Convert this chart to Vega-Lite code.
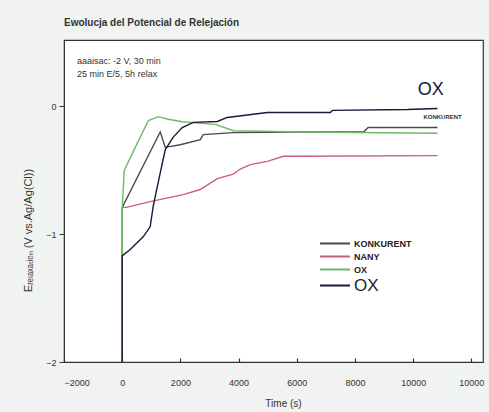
{
  "$schema": "https://vega.github.io/schema/vega-lite/v6.json",
  "autosize": "none",
  "width": 419,
  "height": 322,
  "padding": {"left": 64, "top": 40, "right": 6, "bottom": 50},
  "background": "#f1f2f2",
  "title": {"text": "Ewolucja del Potencial de Relejación", "anchor": "start", "frame": "group", "fontSize": 10, "fontWeight": "bold", "color": "#333333", "font": "Liberation Sans", "offset": 12},
  "config": {
    "font": "Liberation Sans",
    "view": {"stroke": "#333333", "strokeWidth": 1.2, "fill": "#ffffff"}
  },
  "datasets": {
    "curves": [
      {"s": "KONKURENT", "i": 0, "t": 0, "e": -2},
      {"s": "KONKURENT", "i": 1, "t": 0, "e": -0.79},
      {"s": "KONKURENT", "i": 2, "t": 1307, "e": -0.2},
      {"s": "KONKURENT", "i": 3, "t": 1479, "e": -0.32},
      {"s": "KONKURENT", "i": 4, "t": 1995, "e": -0.3},
      {"s": "KONKURENT", "i": 5, "t": 2683, "e": -0.26},
      {"s": "KONKURENT", "i": 6, "t": 2786, "e": -0.22},
      {"s": "KONKURENT", "i": 7, "t": 3818, "e": -0.205},
      {"s": "KONKURENT", "i": 8, "t": 6123, "e": -0.2},
      {"s": "KONKURENT", "i": 9, "t": 8300, "e": -0.2},
      {"s": "KONKURENT", "i": 10, "t": 8450, "e": -0.165},
      {"s": "KONKURENT", "i": 11, "t": 10836, "e": -0.165},
      {"s": "NANY", "i": 0, "t": 0, "e": -0.79},
      {"s": "NANY", "i": 1, "t": 140, "e": -0.79},
      {"s": "NANY", "i": 2, "t": 963, "e": -0.745},
      {"s": "NANY", "i": 3, "t": 2098, "e": -0.69},
      {"s": "NANY", "i": 4, "t": 2683, "e": -0.65},
      {"s": "NANY", "i": 5, "t": 3268, "e": -0.565},
      {"s": "NANY", "i": 6, "t": 3818, "e": -0.53},
      {"s": "NANY", "i": 7, "t": 4060, "e": -0.49},
      {"s": "NANY", "i": 8, "t": 4403, "e": -0.455},
      {"s": "NANY", "i": 9, "t": 4988, "e": -0.43},
      {"s": "NANY", "i": 10, "t": 5538, "e": -0.39},
      {"s": "NANY", "i": 11, "t": 6123, "e": -0.39},
      {"s": "NANY", "i": 12, "t": 10836, "e": -0.385},
      {"s": "OX", "i": 0, "t": 0, "e": -2},
      {"s": "OX", "i": 1, "t": 0, "e": -0.8},
      {"s": "OX", "i": 2, "t": 70, "e": -0.5},
      {"s": "OX", "i": 3, "t": 450, "e": -0.32},
      {"s": "OX", "i": 4, "t": 900, "e": -0.11},
      {"s": "OX", "i": 5, "t": 1240, "e": -0.08},
      {"s": "OX", "i": 6, "t": 1580, "e": -0.1},
      {"s": "OX", "i": 7, "t": 2060, "e": -0.12},
      {"s": "OX", "i": 8, "t": 3200, "e": -0.14},
      {"s": "OX", "i": 9, "t": 3830, "e": -0.19},
      {"s": "OX", "i": 10, "t": 6100, "e": -0.2},
      {"s": "OX", "i": 11, "t": 10836, "e": -0.21},
      {"s": "OX2", "i": 0, "t": 0, "e": -2},
      {"s": "OX2", "i": 1, "t": 0, "e": -1.17},
      {"s": "OX2", "i": 2, "t": 275, "e": -1.12},
      {"s": "OX2", "i": 3, "t": 722, "e": -1.02},
      {"s": "OX2", "i": 4, "t": 963, "e": -0.94},
      {"s": "OX2", "i": 5, "t": 1066, "e": -0.78},
      {"s": "OX2", "i": 6, "t": 1307, "e": -0.52},
      {"s": "OX2", "i": 7, "t": 1479, "e": -0.34},
      {"s": "OX2", "i": 8, "t": 1754, "e": -0.24},
      {"s": "OX2", "i": 9, "t": 2064, "e": -0.165},
      {"s": "OX2", "i": 10, "t": 2442, "e": -0.125},
      {"s": "OX2", "i": 11, "t": 3268, "e": -0.118},
      {"s": "OX2", "i": 12, "t": 3612, "e": -0.086},
      {"s": "OX2", "i": 13, "t": 4988, "e": -0.047},
      {"s": "OX2", "i": 14, "t": 7155, "e": -0.047},
      {"s": "OX2", "i": 15, "t": 7224, "e": -0.031},
      {"s": "OX2", "i": 16, "t": 9804, "e": -0.024},
      {"s": "OX2", "i": 17, "t": 10836, "e": -0.016}
    ],
    "notes": [
      {"t": -1550, "e": 0.353, "label": "aaaisac: -2 V, 30 min"},
      {"t": -1550, "e": 0.251, "label": "25 min E/5, 5h relax"}
    ]
  },
  "layer": [
    {
      "data": {"name": "curves"},
      "mark": {"type": "line", "strokeWidth": 1.4, "interpolate": "linear"},
      "encoding": {
        "x": {"field": "t", "type": "quantitative",
          "scale": {"domain": [-2000, 12400], "nice": false, "zero": false},
          "axis": {"values": [-2000, 0, 2000, 4000, 6000, 8000, 10000, 12000], "format": "d",
            "labelExpr": "datum.value == 12000 ? '10000' : datum.label",
            "grid": false, "tickSize": -4, "tickWidth": 1.2, "tickColor": "#333333", "domainColor": "#333333", "zindex": 1,
            "labelFontSize": 9, "labelColor": "#333333", "labelPadding": 20,
            "title": "Time (s)", "titleFontSize": 10, "titleFontWeight": "normal", "titleColor": "#333333", "titlePadding": 11, "titleX": 219}},
        "y": {"field": "e", "type": "quantitative",
          "scale": {"domain": [-2, 0.52], "nice": false, "zero": false},
          "axis": {"values": [-2, -1, 0], "format": "d", "grid": false, "tickSize": 5, "tickColor": "#333333", "domainColor": "#333333",
            "labelFontSize": 9, "labelColor": "#333333", "labelPadding": 3,
            "title": "Eᵣₑₗₐₓₐₜᵢₒₙ (V vs.Ag/Ag(Cl))", "titleFontSize": 11, "titleFontWeight": "normal", "titleColor": "#333333", "titleY": 190, "titlePadding": 12}},
        "color": {"field": "s", "type": "nominal",
          "scale": {"domain": ["KONKURENT", "NANY", "OX", "OX2"], "range": ["#4a4a4a", "#c8607a", "#6fb86a", "#1c1638"]},
          "legend": {"title": null, "orient": "none", "legendX": 255, "legendY": 197,
            "symbolType": "stroke", "symbolSize": 900, "symbolStrokeWidth": 2, "clipHeight": 13,
            "labelExpr": "datum.value == 'OX2' ? 'OX' : datum.value",
            "labelFontSize": 9, "labelFontWeight": "bold", "labelColor": "#222222", "labelOffset": 3, "rowPadding": 0,
            "encode": {"labels": {"update": {"fontSize": {"signal": "datum.value == 'OX2' ? 17 : 9"}, "fontWeight": {"signal": "datum.value == 'OX2' ? 'normal' : 'bold'"}}}}}},
        "order": {"field": "i", "type": "quantitative"}
      }
    },
    {
      "data": {"name": "notes"},
      "mark": {"type": "text", "align": "left", "baseline": "middle", "fontSize": 9, "color": "#333333"},
      "encoding": {
        "x": {"field": "t", "type": "quantitative"},
        "y": {"field": "e", "type": "quantitative"},
        "text": {"field": "label"}
      }
    },
    {
      "data": {"values": [{"t": 10600, "e": 0.13, "label": "OX"}]},
      "mark": {"type": "text", "align": "center", "baseline": "middle", "fontSize": 18, "color": "#1c1638"},
      "encoding": {
        "x": {"field": "t", "type": "quantitative"},
        "y": {"field": "e", "type": "quantitative"},
        "text": {"field": "label"}
      }
    },
    {
      "data": {"values": [{"t": 11010, "e": -0.086, "label": "KONKURENT"}]},
      "mark": {"type": "text", "align": "center", "baseline": "middle", "fontSize": 6, "fontWeight": "bold", "color": "#333333"},
      "encoding": {
        "x": {"field": "t", "type": "quantitative"},
        "y": {"field": "e", "type": "quantitative"},
        "text": {"field": "label"}
      }
    }
  ]
}
